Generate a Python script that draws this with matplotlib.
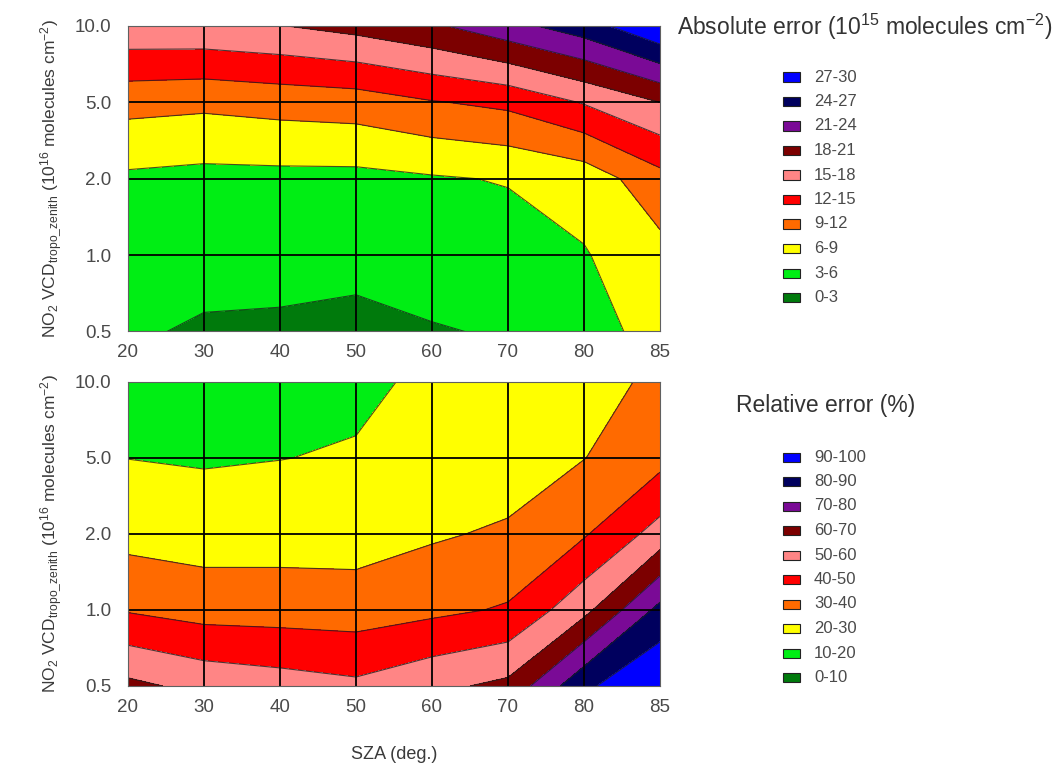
import numpy as np
import matplotlib.pyplot as plt
from matplotlib.patches import Rectangle

plt.rcParams['font.family'] = ['Liberation Sans', 'DejaVu Sans']
plt.rcParams['mathtext.default'] = 'regular'

# grid nodes: columns = SZA, rows = NO2 VCD (evenly spaced on the plot)
sza = [20, 30, 40, 50, 60, 70, 80, 85]
vcd = ['0.5', '1.0', '2.0', '5.0', '10.0']

# absolute error (1e15 molecules cm-2), rows from 0.5 up to 10.0
abs_err = np.array([
    [3.4, 2.62, 2.44, 1.89, 2.81, 3.25, 4.9, 7.0],
    [4.4, 4.14, 4.2, 4.2, 4.3, 4.5, 5.8, 8.0],
    [5.46, 5.1, 5.16, 5.16, 5.7, 6.2, 7.2, 11.0],
    [10.0, 9.65, 10.15, 10.5, 11.8, 12.7, 15.2, 18.0],
    [17.2, 17.3, 17.9, 19.0, 20.5, 23.0, 25.6, 29.8],
])

# relative error (%)
rel_err = np.array([
    [62.5, 57.0, 54.5, 52.0, 57.6, 62.4, 88.0, 99.7],
    [39.2, 36.0, 35.6, 35.1, 37.8, 41.0, 57.0, 83.0],
    [26.6, 25.3, 25.6, 25.5, 28.8, 31.5, 39.0, 54.0],
    [19.9, 19.1, 19.83, 20.83, 23.5, 24.4, 29.8, 36.8],
    [10.5, 12.0, 14.0, 18.0, 21.8, 24.0, 26.0, 32.2],
])

abs_levels = [0, 3, 6, 9, 12, 15, 18, 21, 24, 27, 30]
rel_levels = [0, 10, 20, 30, 40, 50, 60, 70, 80, 90, 100]
abs_labels = ['0-3', '3-6', '6-9', '9-12', '12-15', '15-18',
              '18-21', '21-24', '24-27', '27-30']
rel_labels = ['0-10', '10-20', '20-30', '30-40', '40-50', '50-60',
              '60-70', '70-80', '80-90', '90-100']

band_colors = ['#007a0c', '#00ee14', '#ffff00', '#ff6a00', '#ff0000',
               '#ff8585', '#7c0000', '#7a0a96', '#00005e', '#0000ff']

W, H = 1060, 769
fig = plt.figure(figsize=(W / 100, H / 100), dpi=100)


def fx(px):
    return px / W


def fy(py):
    return 1 - py / H


def draw_panel(rect, z, levels):
    ax = fig.add_axes(rect)
    xi = np.arange(len(sza))
    yi = np.arange(len(vcd))
    ax.contourf(xi, yi, z, levels=levels, colors=band_colors)
    ax.contour(xi, yi, z, levels=levels[1:-1], colors='#202020',
               linewidths=0.8, alpha=0.8)
    for x in xi[1:-1]:
        ax.axvline(x, color='black', lw=1.3)
    for y in yi[1:-1]:
        ax.axhline(y, color='black', lw=1.3)
    ax.set_xlim(0, len(sza) - 1)
    ax.set_ylim(0, len(vcd) - 1)
    ax.set_xticks(xi)
    ax.set_xticklabels([str(s) for s in sza])
    ax.set_yticks(yi)
    ax.set_yticklabels(vcd)
    ax.tick_params(length=0, labelsize=13.5, labelcolor='#4a4a4a')
    ax.tick_params(axis='y', pad=12)
    ax.tick_params(axis='x', pad=9)
    for s in ax.spines.values():
        s.set_color('#606060')
        s.set_linewidth(0.8)
    ax.set_ylabel(r'NO$_2$ VCD$_{tropo\_zenith}$ (10$^{16}$ molecules cm$^{-2}$)',
                  fontsize=12.5, color='#3a3a3a', labelpad=8)
    return ax


def draw_key(title, title_xy, labels, y0):
    fig.text(fx(title_xy[0]), fy(title_xy[1]), title, fontsize=16.5,
             color='#333333', ha='left', va='center')
    step = 24.5
    for k, (lab, col) in enumerate(zip(labels[::-1], band_colors[::-1])):
        yc = y0 + k * step
        fig.add_artist(Rectangle((fx(783), fy(yc + 4.5)), 17 / W, 9 / H,
                                 transform=fig.transFigure, facecolor=col,
                                 edgecolor='#222222', lw=0.8))
        fig.text(fx(814), fy(yc), lab, fontsize=12, color='#4a4a4a',
                 ha='left', va='center')


ax1 = draw_panel([fx(128), fy(331.5), 532 / W, 305.5 / H], abs_err, abs_levels)
ax2 = draw_panel([fx(128), fy(686), 532 / W, 304 / H], rel_err, rel_levels)
ax2.set_xlabel('SZA (deg.)', fontsize=13, color='#3a3a3a', labelpad=22)

draw_key(r'Absolute error (10$^{15}$ molecules cm$^{-2}$)', (677, 27),
         abs_labels, 77)
draw_key('Relative error (%)', (736, 405), rel_labels, 457)

fig.savefig('out.png', dpi=100)
